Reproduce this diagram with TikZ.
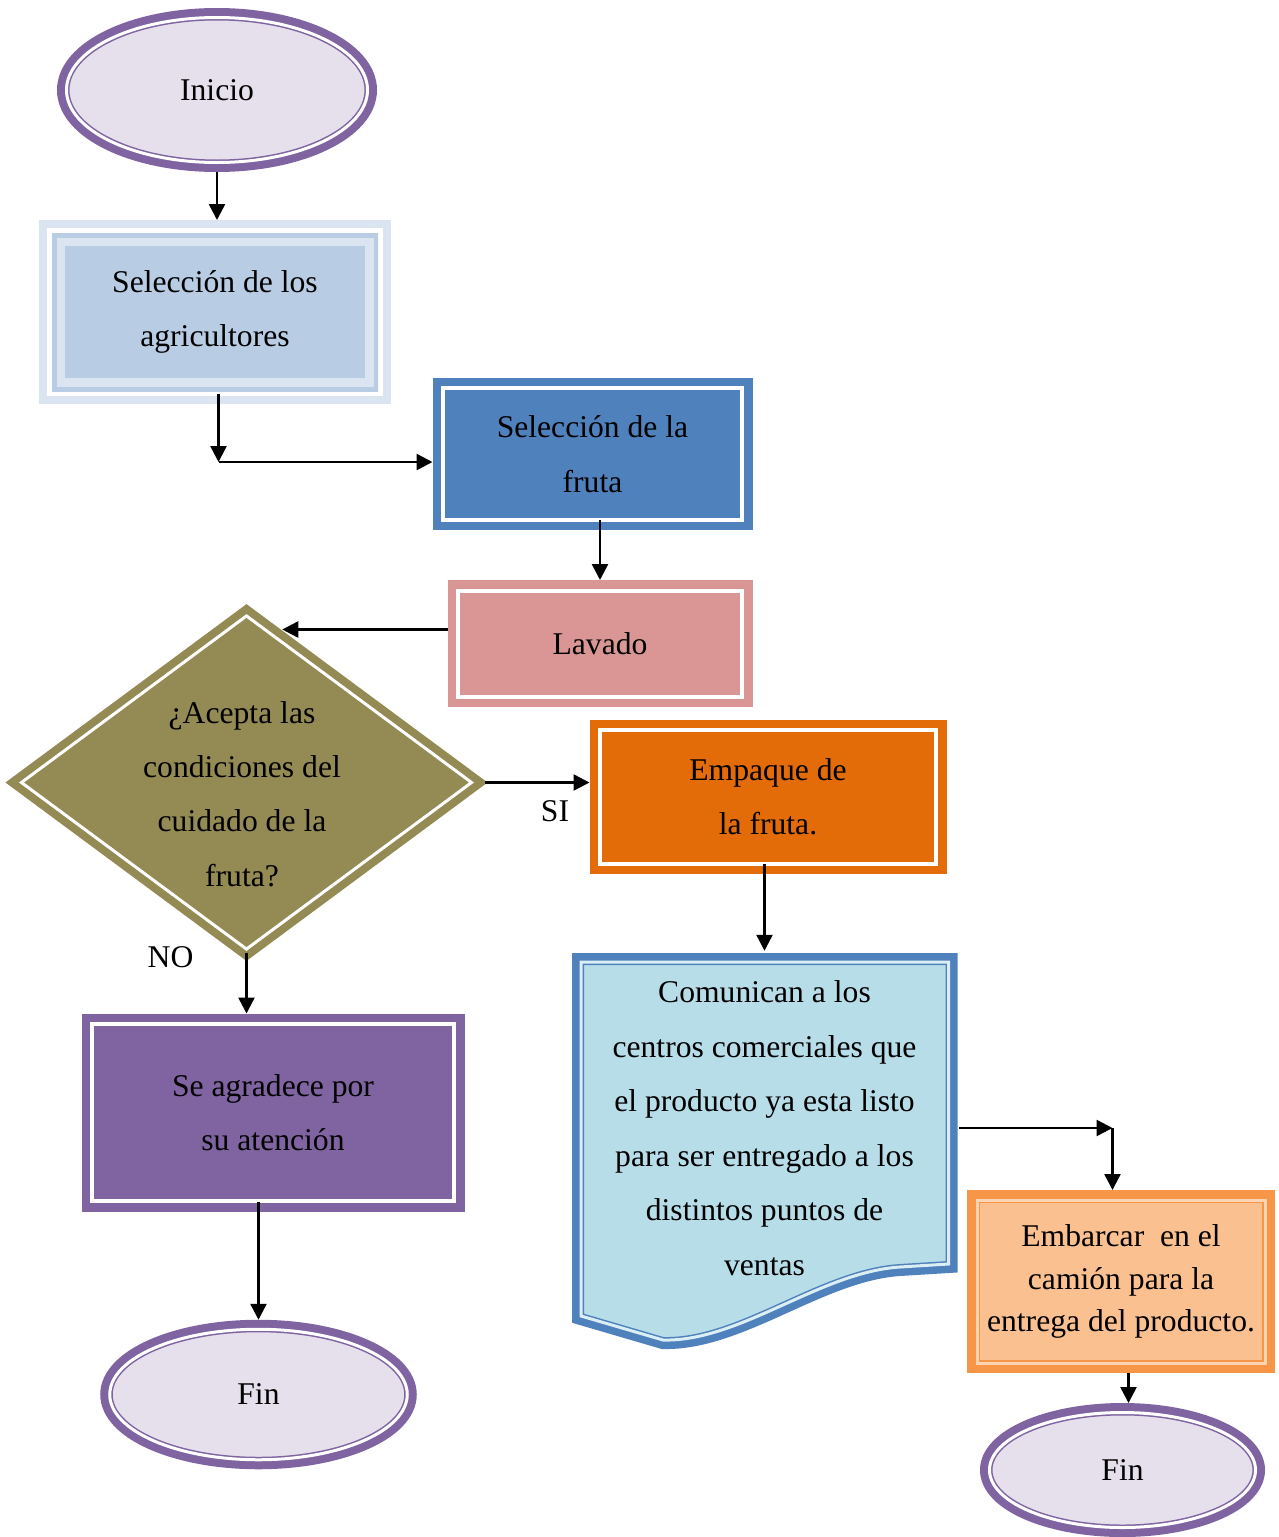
\documentclass[tikz,border=0pt]{standalone}
\usepackage{fontspec}
\setmainfont{Liberation Serif}
\usetikzlibrary{positioning, shapes.geometric, arrows.meta, calc, backgrounds}

\definecolor{violeta}{HTML}{8064A2}
\definecolor{lila}{HTML}{E5E0EC}
\definecolor{azulclaro}{HTML}{DBE5F1}
\definecolor{azulmedio}{HTML}{B8CCE4}
\definecolor{azul}{HTML}{4F81BD}
\definecolor{rosa}{HTML}{D99694}
\definecolor{oliva}{HTML}{948A54}
\definecolor{naranja}{HTML}{E36C09}
\definecolor{naranjaclaro}{HTML}{F79646}
\definecolor{durazno}{HTML}{FAC090}
\definecolor{durazno2}{HTML}{FBD4B4}
\definecolor{celeste}{HTML}{B7DDE8}
\definecolor{celeste2}{HTML}{DAEEF3}

\begin{document}
\begin{tikzpicture}[>={Triangle[length=0.32cm, width=0.32cm]}, line width=0.05cm,
    font=\fontsize{18}{31}\selectfont]
        % Estilos
        \tikzstyle{terminal} = [ellipse, fill=lila, draw=violeta, line width=0.03cm, double=white, double distance=0.06cm, preaction={draw=violeta, line width=0.38cm}, outer sep=0.19cm]
        \tikzstyle{caja} = [rectangle, align=center, fill=#1, draw=white, line width=0.08cm, preaction={draw=#1, line width=0.42cm}, outer sep=0.21cm]
        \tikzstyle{doblemarco} = [rectangle, align=center, fill=azulclaro, minimum width=6.52cm, minimum height=3.16cm,
            preaction={draw=azulclaro, line width=0.52cm}, preaction={draw=white, line width=0.2cm},
            path picture={\draw[azulmedio, line width=0.18cm] (path picture bounding box.south west) rectangle (path picture bounding box.north east);
                \fill[azulmedio] ([shift={(0.26cm,0.26cm)}]path picture bounding box.south west) rectangle ([shift={(-0.26cm,-0.26cm)}]path picture bounding box.north east);},
            outer sep=0.26cm]
        \tikzstyle{decision} = [diamond, fill=oliva, draw=white, line width=0.06cm, preaction={draw=oliva, line width=0.38cm}, minimum width=9.16cm, minimum height=6.82cm, inner sep=0pt, outer sep=0.19cm]
        \tikzstyle{embarque} = [rectangle, align=center, fill=durazno, draw=naranjaclaro, line width=0.03cm, double=durazno2, double distance=0.06cm, preaction={draw=naranjaclaro, line width=0.4cm}, outer sep=0.2cm]
        \tikzstyle{documento} = [fill=celeste, draw=azul, line width=0.03cm, double=celeste2, double distance=0.06cm, preaction={draw=azul, line width=0.36cm}]
        \tikzstyle{sale} = [shorten <=-0.2cm]

        \useasboundingbox (0,0) rectangle (25.58,-30.74);

        % Inicio y seleccion
        \node [terminal, minimum width=6.02cm, minimum height=2.9cm] (ini) at (4.34,-1.8) {Inicio};
        \node [doblemarco, below of=ini, node distance=4.44cm, xshift=-0.04cm] (agri) {Selección de los\\agricultores};
        \node [caja=azul, right of=agri, node distance=7.55cm, yshift=-2.84cm, minimum width=5.98cm, minimum height=2.63cm] (fru) {Selección de la\\fruta};
        \node [caja=rosa, below of=fru, node distance=3.79cm, xshift=0.15cm, minimum width=5.68cm, minimum height=2.12cm] (lav) {Lavado};

        % Decision
        \node [decision, left of=lav, node distance=7.07cm, yshift=-2.78cm,
            label={[align=center, xshift=-0.09cm, yshift=-0.23cm]center:{¿Acepta las\\condiciones del\\cuidado de la\\fruta?}}] (cond) {};
        \node [caja=naranja, right of=cond, node distance=10.43cm, yshift=-0.29cm, minimum width=6.72cm, minimum height=2.67cm] (emp) {Empaque de\\la fruta.};
        \node [caja=violeta, below of=cond, node distance=6.6cm, xshift=0.53cm, minimum width=7.24cm, minimum height=3.54cm] (agr) {Se agradece por\\su atención};
        \node [terminal, below of=agr, node distance=5.64cm, xshift=-0.29cm, minimum width=5.95cm, minimum height=2.61cm] (fin1) {Fin};
        \node [left=0.92cm of cond.south, yshift=0.1cm] (no) {NO};

        % Comunicacion y embarque
        \node [align=center, below of=emp, node distance=6.62cm, xshift=-0.07cm, minimum width=7.74cm, minimum height=7.04cm, inner sep=0pt] (com) {Comunican a los\\centros comerciales que\\el producto ya esta listo\\para ser entregado a los\\distintos puntos de\\ventas};
        \begin{scope}[on background layer, shift={(com.center)}]
            \draw [documento] (-3.67,3.32) -- (3.68,3.32) -- (3.68,-2.72) -- (2.71,-2.78)
                .. controls (1.11,-2.88) and (-0.49,-4.28) .. (-2.03,-4.24) -- (-3.67,-3.76) -- cycle;
        \end{scope}
        \node [embarque, right of=com, node distance=7.13cm, yshift=-3.07cm, minimum width=5.76cm, minimum height=3.26cm,
            font=\fontsize{18}{24}\selectfont] (emb) {Embarcar~ en el\\camión para la\\entrega del producto.};
        \node [terminal, below of=emb, node distance=3.77cm, xshift=0.03cm, minimum width=5.32cm, minimum height=2.3cm] (fin2) {Fin};

        % Puntos de quiebre
        \coordinate (codo1) at ($(agri.south |- fru.west)+(0.07,-0.16)$);
        \coordinate (entra) at ($(cond.north)!0.15!(cond.east)$);
        \coordinate (codo2) at ($(com.east -| emb.north)+(-0.17,0)$);

        % Conexiones
        \draw [->] (ini.south) -- (ini.south |- agri.north);
        \draw [->, sale] (agri.south -| codo1) -- (codo1);
        \draw [->] (codo1) -- (codo1 -| fru.west);
        \draw [->, sale] (lav.north |- fru.south) -- (lav.north);
        \draw [->] (lav.west |- entra) -- (entra);
        \draw [->] (cond.east) -- node[below=0.22cm, pos=0.67] (si) {SI} (cond.east -| emp.west);
        \draw [->, sale] (cond.south) -- (cond.south |- agr.north);
        \draw [->, sale] (fin1.north |- agr.south) -- (fin1.north);
        \draw [->, sale] (com.north |- emp.south) -- (com.north);
        \draw [->] (com.east) -- (codo2);
        \draw [->] (codo2) -- (codo2 |- emb.north);
        \draw [->] ($(emb.south)+(0.15,0)$) -- ($(fin2.north)+(0.12,0)$);

    \end{tikzpicture}
\end{document}
